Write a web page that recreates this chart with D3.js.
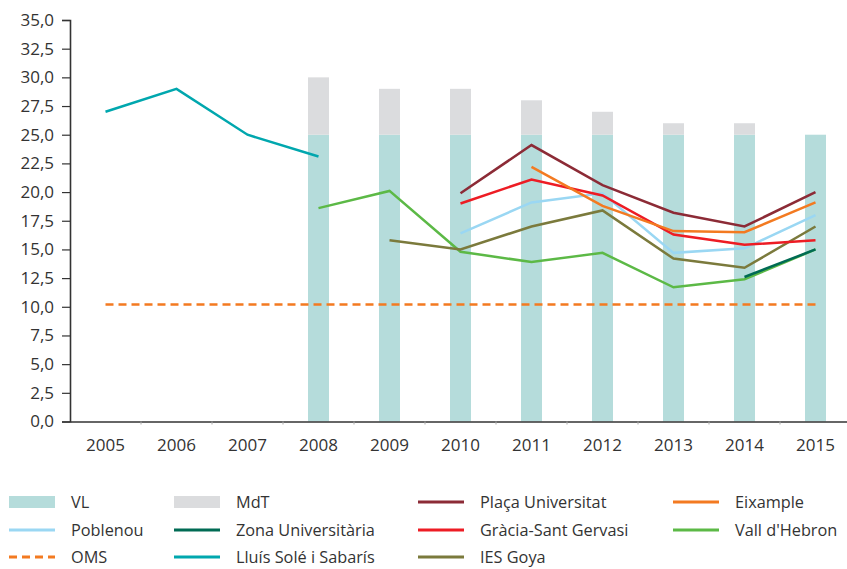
<!DOCTYPE html>
<html>
<head>
<meta charset="utf-8">
<script src="https://cdn.jsdelivr.net/npm/d3@7/dist/d3.min.js"></script>
<style>
  body { margin: 0; background: #fff; }
  text { font-family: "Open Sans", "DejaVu Sans", sans-serif; fill: #333; }
</style>
</head>
<body>
<div id="chart"></div>
<script>
// data
const years = [2005, 2006, 2007, 2008, 2009, 2010, 2011, 2012, 2013, 2014, 2015];
const yTicks = [0, 2.5, 5, 7.5, 10, 12.5, 15, 17.5, 20, 22.5, 25, 27.5, 30, 32.5, 35];

const vl  = [null, null, null, 25, 25, 25, 25, 25, 25, 25, 25];
const mdt = [null, null, null, 5, 4, 4, 3, 2, 1, 1, null];   // on top of VL
const oms = [10.2, 10.2, 10.2, 10.2, 10.2, 10.2, 10.2, 10.2, 10.2, 10.2, 10.2];

const lluisSole    = [27.0, 29.0, 25.0, 23.1, null, null, null, null, null, null, null];
const vallHebron   = [null, null, null, 18.6, 20.1, 14.8, 13.9, 14.7, 11.7, 12.4, 15.0];
const iesGoya      = [null, null, null, null, 15.8, 15.0, 17.0, 18.4, 14.2, 13.4, 17.0];
const poblenou     = [null, null, null, null, null, 16.4, 19.1, 19.9, 14.7, 15.1, 18.0];
const gracia       = [null, null, null, null, null, 19.0, 21.1, 19.7, 16.3, 15.4, 15.8];
const eixample     = [null, null, null, null, null, null, 22.2, 18.8, 16.6, 16.5, 19.1];
const placaUniv    = [null, null, null, null, null, 19.9, 24.1, 20.6, 18.2, 17.0, 20.0];
const zonaUniv     = [null, null, null, null, null, null, null, null, null, 12.6, 15.0];

const series = [
  { name: "Lluís Solé i Sabarís", values: lluisSole, color: "#00a7ae" },
  { name: "Vall d'Hebron", values: vallHebron, color: "#5cb946" },
  { name: "IES Goya", values: iesGoya, color: "#7b7a3c" },
  { name: "Poblenou", values: poblenou, color: "#9ad7f3" },
  { name: "Gràcia-Sant Gervasi", values: gracia, color: "#ed1c24" },
  { name: "Eixample", values: eixample, color: "#f37a21" },
  { name: "Plaça Universitat", values: placaUniv, color: "#8c2b36" },
  { name: "Zona Universitària", values: zonaUniv, color: "#006b54" }
];

const colVL = "#b5dcdb", colMdT = "#dbdcde", colOMS = "#f37a21";

const W = 847, H = 569;
const margin = { top: 20, left: 70, bottom: 148 };
const plotBottom = H - margin.bottom + 0.5;

const svg = d3.select("#chart").append("svg")
  .attr("width", W).attr("height", H);

const x = d3.scaleBand()
  .domain(years)
  .range([margin.left, margin.left + 71 * years.length]);

const y = d3.scaleLinear()
  .domain([0, 35])
  .range([plotBottom, margin.top]);

const barW = 21;
const cx = yr => x(yr) + x.bandwidth() / 2;
const fmt = d => d3.format(".1f")(d).replace(".", ",");

// bars
const barData = years.map((yr, i) => ({ year: yr, vl: vl[i], mdt: mdt[i] }));

svg.append("g").selectAll("rect")
  .data(barData.filter(d => d.vl != null))
  .join("rect")
  .attr("x", d => cx(d.year) - barW / 2)
  .attr("width", barW)
  .attr("y", d => y(d.vl))
  .attr("height", d => y(0) - y(d.vl))
  .attr("fill", colVL);

svg.append("g").selectAll("rect")
  .data(barData.filter(d => d.mdt != null))
  .join("rect")
  .attr("x", d => cx(d.year) - barW / 2)
  .attr("width", barW)
  .attr("y", d => y(d.vl + d.mdt))
  .attr("height", d => y(d.vl) - y(d.vl + d.mdt))
  .attr("fill", colMdT);

// axes
const yAxis = svg.append("g")
  .attr("transform", `translate(${margin.left},0)`)
  .call(d3.axisLeft(y).tickValues(yTicks).tickFormat(fmt).tickSize(8).tickPadding(8));
yAxis.select(".domain").attr("stroke", "#333").attr("stroke-width", 1.6);
yAxis.selectAll(".tick line").attr("stroke", "#333").attr("stroke-width", 1.2);
yAxis.selectAll(".tick text").style("font-size", "17px").attr("fill", "#333");

const xAxis = svg.append("g")
  .attr("transform", `translate(0,${plotBottom})`)
  .call(d3.axisBottom(x).tickSize(0).tickPadding(17));
xAxis.select(".domain").attr("stroke", "#333").attr("stroke-width", 1.6);
xAxis.selectAll(".tick text").style("font-size", "17px").attr("fill", "#333");

// little separators between categories
svg.append("g").selectAll("line")
  .data(years.slice(1))
  .join("line")
  .attr("x1", d => x(d)).attr("x2", d => x(d))
  .attr("y1", plotBottom).attr("y2", plotBottom + 3)
  .attr("stroke", "#aaa").attr("stroke-width", 1);

// OMS reference
const line = d3.line()
  .defined(d => d.v != null)
  .x(d => cx(d.year))
  .y(d => y(d.v));

svg.append("path")
  .datum(years.map((yr, i) => ({ year: yr, v: oms[i] })))
  .attr("d", line)
  .attr("fill", "none")
  .attr("stroke", colOMS)
  .attr("stroke-width", 2.6)
  .attr("stroke-dasharray", "8,5");

// station lines
svg.append("g").selectAll("path")
  .data(series)
  .join("path")
  .attr("d", s => line(years.map((yr, i) => ({ year: yr, v: s.values[i] }))))
  .attr("fill", "none")
  .attr("stroke", s => s.color)
  .attr("stroke-width", 2.5);

// legend
const legendItems = [
  { name: "VL", type: "rect", color: colVL },
  { name: "MdT", type: "rect", color: colMdT },
  { name: "Plaça Universitat", type: "line", color: "#8c2b36" },
  { name: "Eixample", type: "line", color: "#f37a21" },
  { name: "Poblenou", type: "line", color: "#9ad7f3" },
  { name: "Zona Universitària", type: "line", color: "#006b54" },
  { name: "Gràcia-Sant Gervasi", type: "line", color: "#ed1c24" },
  { name: "Vall d'Hebron", type: "line", color: "#5cb946" },
  { name: "OMS", type: "dash", color: colOMS },
  { name: "Lluís Solé i Sabarís", type: "line", color: "#00a7ae" },
  { name: "IES Goya", type: "line", color: "#7b7a3c" }
];
const colX = [9, 174, 418, 673];
const rowY = [502, 530, 557];

const leg = svg.append("g").selectAll("g")
  .data(legendItems)
  .join("g")
  .attr("transform", (d, i) => `translate(${colX[i % 4]},${rowY[Math.floor(i / 4)]})`);

leg.filter(d => d.type === "rect").append("rect")
  .attr("x", 0).attr("y", -6).attr("width", 46).attr("height", 12)
  .attr("fill", d => d.color);

leg.filter(d => d.type !== "rect").append("line")
  .attr("x1", 0).attr("x2", 46).attr("y1", 0).attr("y2", 0)
  .attr("stroke", d => d.color)
  .attr("stroke-width", 3)
  .attr("stroke-dasharray", d => d.type === "dash" ? "8,5" : null);

leg.append("text")
  .attr("x", 62).attr("y", 0)
  .attr("dy", "0.35em")
  .style("font-size", "16.3px")
  .text(d => d.name);
</script>
</body>
</html>
